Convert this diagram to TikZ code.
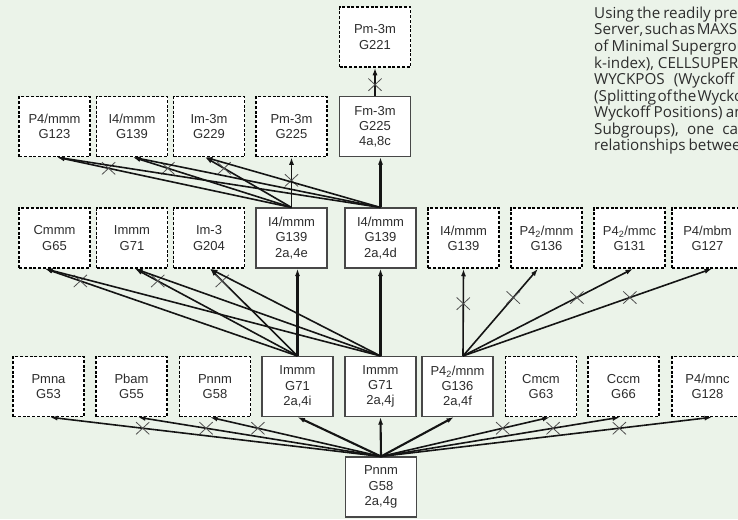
\documentclass[tikz,border=0pt]{standalone}
\usepackage{fontspec}
\setmainfont{Liberation Sans}
\newfontfamily\parafont{Open Sans}
\usetikzlibrary{arrows.meta,shapes.misc}
\definecolor{bgc}{RGB}{235,243,233}
\definecolor{txtc}{RGB}{45,45,45}
\definecolor{linec}{RGB}{20,20,20}
\definecolor{crossc}{RGB}{80,80,80}
\begin{document}
\begin{tikzpicture}[x=1pt,y=-1pt,
  box/.style={fill=white, minimum width=71pt, minimum height=60pt, inner sep=0pt, align=center, text=txtc, font={\fontsize{13}{15.2}\selectfont}},
  dbox/.style={box, draw=black, line width=1.5pt, dash pattern=on 3pt off 1.8pt},
  sbox/.style={box, draw=black!72, line width=1.1pt},
  link/.style={draw=linec, line width=1.6pt, -{Latex[length=7.5pt,width=5pt]}},
  main/.style={link, line width=2.1pt},
  xmark/.style={draw=crossc, cross out, line width=0.8pt, minimum width=12.5pt, minimum height=11.5pt, inner sep=0pt},
  para/.style={anchor=base west, inner sep=0pt, text=txtc, font={\parafont\fontsize{15.2}{15.2}\selectfont}}
]
\useasboundingbox (0,0) rectangle (738,519);
\clip (0,0) rectangle (738,519);
\fill[bgc] (0,0) rectangle (738,519);

% top
\node[dbox] (g221) at (375,37) {Pm-3m\\G221};
% level 2
\node[dbox] (p4mmm) at (54.5,126.5) {P4/mmm\\G123};
\node[dbox] (i4mmmA) at (132,126.5) {I4/mmm\\G139};
\node[dbox] (im3m) at (209,126.5) {Im-3m\\G229};
\node[dbox] (pm3m) at (291.5,126.5) {Pm-3m\\G225};
\node[sbox] (fm3m) at (375,126.5) {Fm-3m\\G225\\4a,8c};
% level 3
\node[dbox] (cmmm) at (54.5,238) {Cmmm\\G65};
\node[dbox] (immm) at (132,238) {Immm\\G71};
\node[dbox] (im3) at (209,238) {Im-3\\G204};
\node[sbox] (i4e) at (291.5,238) {I4/mmm\\G139\\2a,4e};
\node[sbox] (i4d) at (380.5,238) {I4/mmm\\G139\\2a,4d};
\node[dbox] (i4mmmB) at (463.5,238) {I4/mmm\\G139};
\node[dbox] (p42mnm) at (546.5,238) {P4\textsubscript{2}/mnm\\G136};
\node[dbox] (p42mmc) at (629.5,238) {P4\textsubscript{2}/mmc\\G131};
\node[dbox] (p4mbm) at (707.5,238) {P4/mbm\\G127};
% level 4
\node[dbox] (pmna) at (48.5,386.5) {Pmna\\G53};
\node[dbox] (pbam) at (131.5,386.5) {Pbam\\G55};
\node[dbox] (pnnm) at (215,386.5) {Pnnm\\G58};
\node[sbox] (immmi) at (297.5,386.5) {Immm\\G71\\2a,4i};
\node[sbox] (immmj) at (380.5,386.5) {Immm\\G71\\2a,4j};
\node[sbox] (pmnmf) at (457.5,386.5) {P4\textsubscript{2}/mnm\\G136\\2a,4f};
\node[dbox] (cmcm) at (541,386.5) {Cmcm\\G63};
\node[dbox] (cccm) at (623.5,386.5) {Cccm\\G66};
\node[dbox] (pmnc) at (707.5,386.5) {P4/mnc\\G128};
% bottom
\node[sbox] (bot) at (381,487) {Pnnm\\G58\\2a,4g};

% bottom -> level 4
\draw[link] (bot.north) -- ([xshift=1.5pt]pmna.south) node[xmark,pos=0.72]{};
\draw[link] (bot.north) -- ([xshift=6.5pt]pbam.south) node[xmark,pos=0.72]{};
\draw[link] (bot.north) -- ([xshift=-5pt]pnnm.south) node[xmark,pos=0.72]{};
\draw[main] (bot.north) -- (immmi.south);
\draw[main] (bot.north) -- (immmj.south);
\draw[main] (bot.north) -- ([xshift=-3.5pt]pmnmf.south);
\draw[link] (bot.north) -- ([xshift=9pt]cmcm.south) node[xmark,pos=0.72]{};
\draw[link] (bot.north) -- ([xshift=-3.5pt]cccm.south) node[xmark,pos=0.72]{};
\draw[link] (bot.north) -- ([xshift=4.5pt]pmnc.south) node[xmark,pos=0.72]{};

% level 4 -> level 3
\draw[link] (immmi.north) -- ([xshift=-9.5pt]cmmm.south) node[xmark,pos=0.86]{};
\draw[link] (immmi.north) -- ([xshift=3pt]immm.south) node[xmark,pos=0.86]{};
\draw[link] (immmi.north) -- ([xshift=1pt]im3.south) node[xmark,pos=0.86]{};
\draw[main] (immmi.north) -- ([xshift=6pt]i4e.south);
\draw[link] (immmj.north) -- ([xshift=-9.5pt]cmmm.south);
\draw[link] (immmj.north) -- ([xshift=3pt]immm.south);
\draw[link] (immmj.north) -- ([xshift=1pt]im3.south);
\draw[main] (immmj.north) -- (i4d.south);
\draw[link] ([xshift=5.5pt]pmnmf.north) -- (i4mmmB.south) node[xmark,pos=0.6]{};
\draw[link] ([xshift=5.5pt]pmnmf.north) -- ([xshift=-8.5pt]p42mnm.south) node[xmark,pos=0.67]{};
\draw[link] ([xshift=5.5pt]pmnmf.north) -- ([xshift=3.5pt]p42mmc.south) node[xmark,pos=0.67]{};
\draw[link] ([xshift=5.5pt]pmnmf.north) -- ([xshift=4.5pt]p4mbm.south) node[xmark,pos=0.67]{};

% level 3 -> level 2
\draw[link] (i4e.north) -- ([xshift=2.5pt]p4mmm.south) node[xmark,pos=0.78]{};
\draw[link] (i4e.north) -- ([xshift=1pt]i4mmmA.south) node[xmark,pos=0.78]{};
\draw[link] (i4e.north) -- ([xshift=-4pt]im3m.south) node[xmark,pos=0.78]{};
\draw[link] (i4e.north) -- (pm3m.south) node[xmark,pos=0.54]{};
\draw[link] (i4d.north) -- ([xshift=2.5pt]p4mmm.south);
\draw[link] (i4d.north) -- ([xshift=1pt]i4mmmA.south);
\draw[link] (i4d.north) -- ([xshift=-4pt]im3m.south);
\draw[main] (i4d.north) -- ([xshift=5.5pt]fm3m.south);

% level 2 -> top
\draw[main] (fm3m.north) -- (g221.south) node[xmark,pos=0.4]{};

% paragraph (cropped by the picture edge, as in the reference)
\node[para] (t1) at (594,18.5) {\spaceskip=0.2em Using the readily pre};
\node[para] (t2) at (594,35) {\spaceskip=0.1em Server, such as MAXSUB};
\node[para] (t3) at (594,51.5) {\spaceskip=0.2em of Minimal Supergrou};
\node[para] (t4) at (594,68) {k-index), CELLSUPER};
\node[para] (t5) at (594,84.5) {\spaceskip=0.6em WYCKPOS (Wyckoff};
\node[para] (t6) at (594,101) {\spaceskip=0.08em (Splitting of the Wycko};
\node[para] (t7) at (594,117.5) {\spaceskip=0.22em Wyckoff Positions) an};
\node[para] (t8) at (594,134) {\spaceskip=0.55em Subgroups), one car};
\node[para] (t9) at (594,150.5) {\spaceskip=0.2em relationships between};
\end{tikzpicture}
\end{document}
